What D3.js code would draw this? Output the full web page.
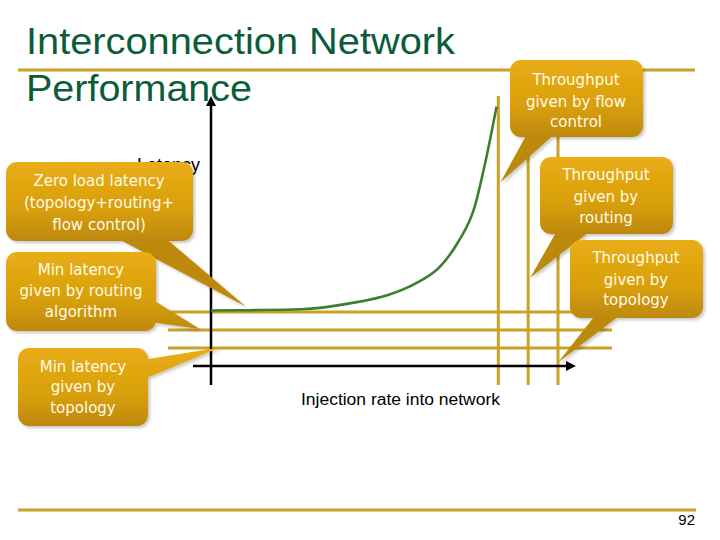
<!DOCTYPE html>
<html><head><meta charset="utf-8">
<script src="https://cdn.jsdelivr.net/npm/d3@7"></script>
<style>body{margin:0;background:#fff}</style>
</head><body>
<svg id="c" width="720" height="540"></svg>
<script>
// ---- data ----
const injectionRate = [0, 0.11, 0.26, 0.40, 0.51, 0.59, 0.66, 0.71, 0.76, 0.79, 0.823];
const latency       = [3.08, 3.1, 3.15, 3.48, 3.94, 4.59, 5.52, 6.82, 8.85, 11.26, 14.41];
const latencyLevels = [3, 2, 1];            // zero load, min by routing, min by topology
const throughputLimits = [0.828, 0.914, 1.0]; // flow control, routing, topology
const titleLines = ["Interconnection Network", "Performance"];
const xAxisLabel = "Injection rate into network";
const yAxisLabel = "Latency";
const slideNumber = "92";
const calloutTexts = [
  ["Zero load latency", "(topology+routing+", "flow control)"],
  ["Min latency", "given by routing", "algorithm"],
  ["Min latency", "given by", "topology"],
  ["Throughput", "given by flow", "control"],
  ["Throughput", "given by", "routing"],
  ["Throughput", "given by", "topology"]
];

// ---- layout ----
const svg = d3.select("#c");
const x = d3.scaleLinear().domain([0, 1]).range([211, 558]);
const y = d3.scaleLinear().domain([0, 15]).range([366, 96]);
const gold = "#c9a227";

const defs = svg.append("defs");
const f = defs.append("filter").attr("id", "sh").attr("x", "-20%").attr("y", "-20%").attr("width", "140%").attr("height", "140%");
f.append("feDropShadow").attr("dx", 2).attr("dy", 2).attr("stdDeviation", 1.5).attr("flood-color", "#000").attr("flood-opacity", 0.22);

// title
svg.append("line").attr("x1", 18).attr("x2", 695).attr("y1", 70).attr("y2", 70).attr("stroke", gold).attr("stroke-width", 3);
svg.append("line").attr("x1", 18).attr("x2", 696).attr("y1", 510).attr("y2", 510).attr("stroke", gold).attr("stroke-width", 3);
const titleY = [54, 101], titleW = [429, 226];
titleLines.forEach((t, i) => {
  svg.append("text").attr("x", 26).attr("y", titleY[i]).text(t)
    .attr("font-family", "Liberation Sans, Arial, sans-serif").attr("font-size", 37)
    .attr("fill", "#0b5d3a").attr("textLength", titleW[i]).attr("lengthAdjust", "spacingAndGlyphs");
});
svg.append("text").attr("x", 695).attr("y", 525).attr("text-anchor", "end").text(slideNumber)
  .attr("font-family", "Liberation Sans, Arial, sans-serif").attr("font-size", 15).attr("fill", "#000");

// y label (partially hidden)
svg.append("text").attr("x", 200).attr("y", 171).attr("text-anchor", "end").text(yAxisLabel)
  .attr("font-family", "Liberation Sans, Arial, sans-serif").attr("font-size", 18).attr("fill", "#000");

// gold reference lines
svg.selectAll(".hl").data(latencyLevels).join("line")
  .attr("x1", x(0) - 43).attr("x2", x(1) + 54)
  .attr("y1", d => y(d)).attr("y2", d => y(d))
  .attr("stroke", gold).attr("stroke-width", 3);
svg.selectAll(".vl").data(throughputLimits).join("line")
  .attr("x1", d => x(d)).attr("x2", d => x(d))
  .attr("y1", y(15)).attr("y2", y(0) + 19)
  .attr("stroke", gold).attr("stroke-width", 3);

// axes
svg.append("line").attr("x1", x(0)).attr("x2", x(0)).attr("y1", y(0) + 19).attr("y2", y(15) + 6)
  .attr("stroke", "#000").attr("stroke-width", 2.5);
svg.append("path").attr("d", `M${x(0)},${y(15)} l-5,10 l10,0 z`).attr("fill", "#000");
svg.append("line").attr("x1", x(0) - 18).attr("x2", x(1) + 10).attr("y1", y(0)).attr("y2", y(0))
  .attr("stroke", "#000").attr("stroke-width", 2.5);
svg.append("path").attr("d", `M${x(1) + 18},${y(0)} l-10,-5 l0,10 z`).attr("fill", "#000");
svg.append("text").attr("x", 301).attr("y", 405).text(xAxisLabel)
  .attr("font-family", "Liberation Sans, Arial, sans-serif").attr("font-size", 16).attr("fill", "#000")
  .attr("textLength", 199).attr("lengthAdjust", "spacingAndGlyphs");

// latency curve
const pts = injectionRate.map((v, i) => [v, latency[i]]);
svg.append("path").datum(pts)
  .attr("d", d3.line().x(d => x(d[0])).y(d => y(d[1])).curve(d3.curveMonotoneX))
  .attr("fill", "none").attr("stroke", "#3f7d30").attr("stroke-width", 2.6);

// callouts
const callouts = [
  {box: [6, 162, 193, 241], base: [[113, 236], [163, 236]], tip: [x(0.1), y(3.3)], cx: 99, ty: [186, 208, 230]},
  {box: [6, 252, 156, 331], base: [[150, 298], [150, 322]], tip: [x(-0.032), y(2.05)], cx: 81, ty: [275, 296, 317]},
  {box: [18, 348, 148, 426], base: [[142, 360], [142, 380]], tip: [x(0.026), y(1.03)], cx: 83, ty: [372, 392, 413]},
  {box: [510, 60, 643, 137], base: [[528, 132], [557, 132]], tip: [x(throughputLimits[0]) + 2, y(10.2)], cx: 576, ty: [85, 107, 127]},
  {box: [540, 157, 673, 234], base: [[558, 229], [593, 229]], tip: [x(throughputLimits[1]) + 2, y(4.9)], cx: 606, ty: [180, 202, 223]},
  {box: [570, 240, 703, 318], base: [[597, 313], [623, 313]], tip: [x(throughputLimits[2]), y(0.2)], cx: 636, ty: [263, 285, 305]}
];
callouts.forEach((c, i) => {
  const [x0, y0, x1, y1] = c.box;
  const gid = "g" + i;
  const g = defs.append("linearGradient").attr("id", gid).attr("gradientUnits", "userSpaceOnUse")
    .attr("x1", 0).attr("x2", 0).attr("y1", y0).attr("y2", y1);
  g.append("stop").attr("offset", 0).attr("stop-color", "#e9ad14");
  g.append("stop").attr("offset", 0.6).attr("stop-color", "#d89f0d");
  g.append("stop").attr("offset", 1).attr("stop-color", "#bd8908");
  const grp = svg.append("g").attr("filter", "url(#sh)");
  grp.append("path").attr("d", `M${c.base[0][0]},${c.base[0][1]} L${c.tip[0]},${c.tip[1]} L${c.base[1][0]},${c.base[1][1]} Z`)
    .attr("fill", `url(#${gid})`);
  grp.append("rect").attr("x", x0).attr("y", y0).attr("width", x1 - x0).attr("height", y1 - y0)
    .attr("rx", 11).attr("fill", `url(#${gid})`);
  calloutTexts[i].forEach((t, j) => {
    svg.append("text").attr("x", c.cx).attr("y", c.ty[j]).attr("text-anchor", "middle").text(t)
      .attr("font-family", "DejaVu Sans, Verdana, sans-serif").attr("font-size", 15).attr("fill", "#fffbe8");
  });
});
</script>
</body></html>
